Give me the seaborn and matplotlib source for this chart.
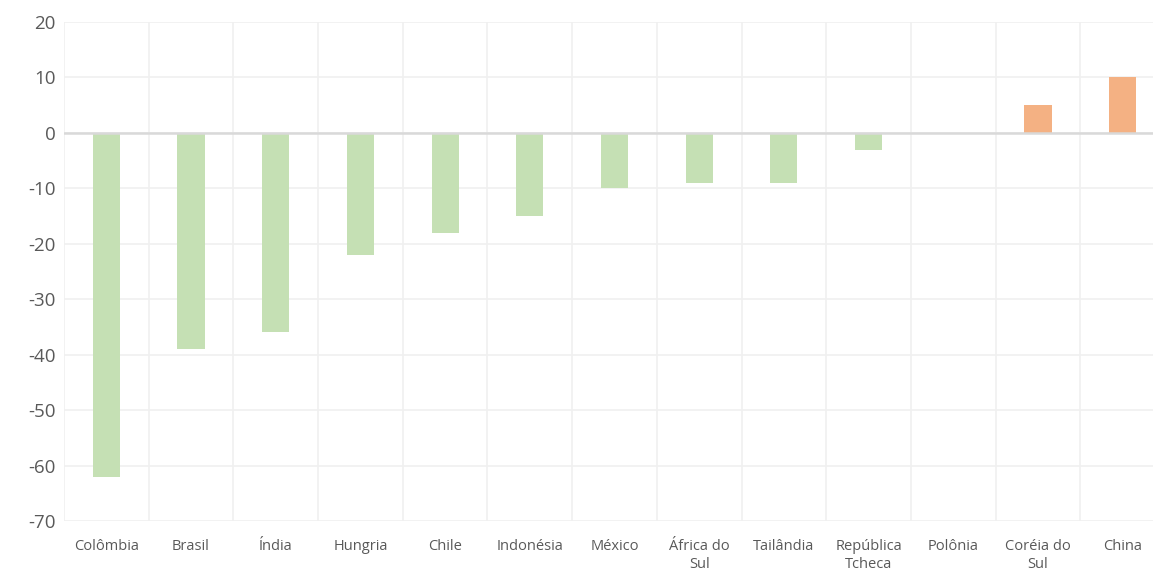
import matplotlib
matplotlib.use("Agg")
import matplotlib.pyplot as plt
import seaborn as sns
import pandas as pd
import numpy as np

countries = ["Colômbia", "Brasil", "Índia", "Hungria", "Chile", "Indonésia", "México",
             "África do\nSul", "Tailândia", "República\nTcheca", "Polônia", "Coréia do\nSul", "China"]
values = [-62, -39, -36, -22, -18, -15, -10, -9, -9, -3, 0, 5, 10]
neg_color = "#C5E0B4"
pos_color = "#F4B183"
colors = [pos_color if v > 0 else neg_color for v in values]
y_ticks = [20, 10, 0, -10, -20, -30, -40, -50, -60, -70]

sns.set_theme(style="white")
plt.rcParams["font.family"] = ["Open Sans", "DejaVu Sans"]
plt.rcParams["axes.unicode_minus"] = False

df = pd.DataFrame({"country": countries, "value": values})

fig = plt.figure(figsize=(11.53, 5.73), dpi=100)
ax = fig.add_axes([64/1153, 52/573, 1101/1153, 499/573])

sns.barplot(data=df, x="country", y="value", hue="country", palette=colors,
            width=0.32, legend=False, ax=ax, saturation=1, zorder=3, linewidth=0)

ax.set_xlim(-0.5, 12.5)
ax.set_ylim(-70, 20)
ax.set_yticks(y_ticks)
ax.set_xticks(np.arange(-0.5, 13, 1), minor=True)
ax.grid(axis="y", which="major", color="#F0F0F0", lw=1.2, zorder=0)
ax.grid(axis="x", which="minor", color="#F0F0F0", lw=1.2, zorder=0)
ax.grid(axis="x", which="major", visible=False)
ax.axhline(0, color="#D9D9D9", lw=1.8, zorder=4)
for s in ax.spines.values():
    s.set_visible(False)
ax.set_xlabel("")
ax.set_ylabel("")
ax.tick_params(axis="y", length=0, pad=6, labelsize=13.5, labelcolor="#595959")
ax.tick_params(axis="x", which="both", length=0, pad=13, labelsize=10.5, labelcolor="#595959")
for lab in ax.get_xticklabels():
    lab.set_linespacing(1.3)

fig.savefig("out.png", dpi=100)
